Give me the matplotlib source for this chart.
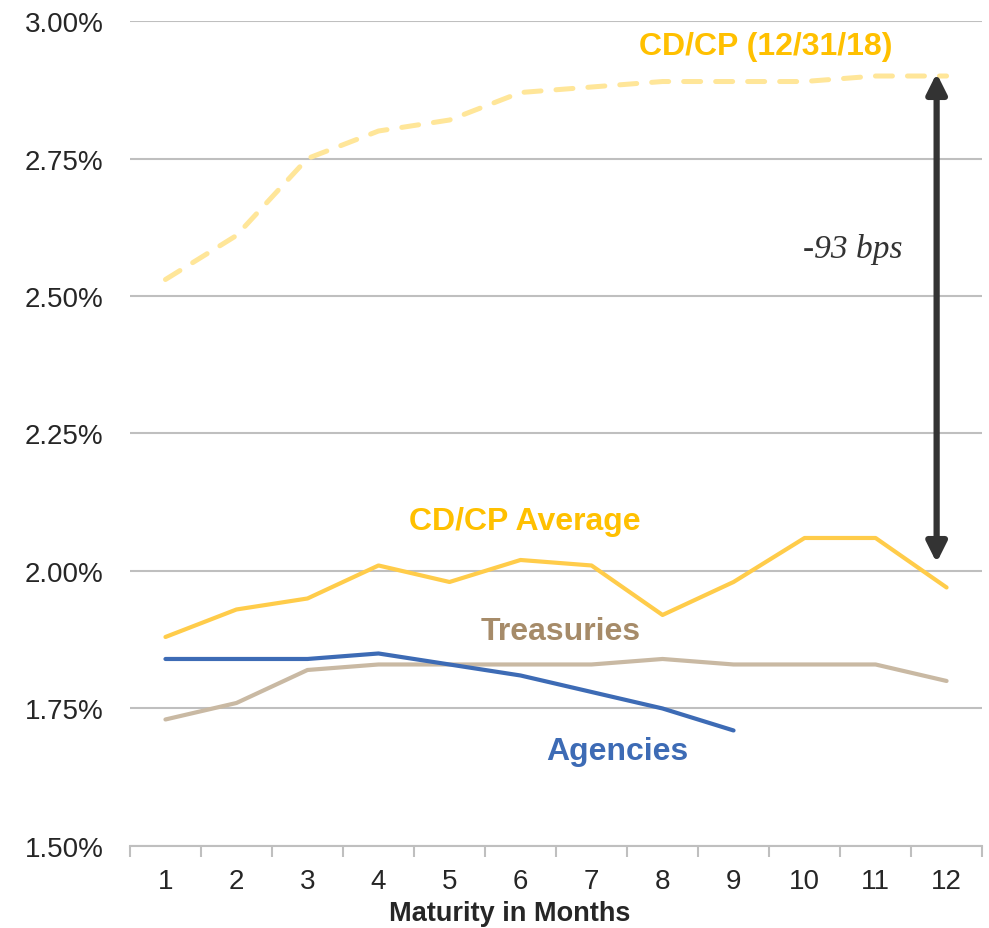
import numpy as np
import matplotlib
matplotlib.use("Agg")
import matplotlib.pyplot as plt
from matplotlib.ticker import FuncFormatter, MultipleLocator

plt.rcParams['font.family'] = ['Liberation Sans', 'DejaVu Sans']

months = list(range(1, 13))
cdcp_1231 = [2.53, 2.61, 2.75, 2.80, 2.82, 2.87, 2.88, 2.89, 2.89, 2.89, 2.90, 2.90]
cdcp_avg = [1.88, 1.93, 1.95, 2.01, 1.98, 2.02, 2.01, 1.92, 1.98, 2.06, 2.06, 1.97]
treasuries = [1.73, 1.76, 1.82, 1.83, 1.83, 1.83, 1.83, 1.84, 1.83, 1.83, 1.83, 1.80]
agencies = [1.84, 1.84, 1.84, 1.85, 1.83, 1.81, 1.78, 1.75, 1.71]

fig = plt.figure(figsize=(9.89, 9.29), dpi=100)
ax = fig.add_axes([0.1314, 0.0883, 0.8616, 0.888])

ax.plot(months, cdcp_1231, color='#FFE699', lw=3.6, ls=(0, (3.4, 3.0)),
        dash_capstyle='round', solid_capstyle='round')
ax.plot(months, treasuries, color='#C9B9A3', lw=3, solid_capstyle='round')
ax.plot(months[:len(agencies)], agencies, color='#3D6BB5', lw=3, solid_capstyle='round')
ax.plot(months, cdcp_avg, color='#FFCC4A', lw=3, solid_capstyle='round')

# spread arrow
ax.annotate('', xy=(11.86, 2.905), xytext=(11.86, 2.015),
            arrowprops=dict(arrowstyle='<|-|>', color='#333333', lw=4.5,
                            mutation_scale=30, shrinkA=0, shrinkB=0))
ax.text(10.68, 2.587, '-93 bps', fontsize=24, style='italic', color='#333333',
        family='Liberation Serif', ha='center', va='center')

# series labels
ax.text(9.45, 2.955, 'CD/CP (12/31/18)', fontsize=23, fontweight='bold', color='#FFC000',
        ha='center', va='center')
ax.text(6.06, 2.091, 'CD/CP Average', fontsize=23, fontweight='bold', color='#FFC000',
        ha='center', va='center')
ax.text(6.57, 1.891, 'Treasuries', fontsize=23, fontweight='bold', color='#A68B69',
        ha='center', va='center')
ax.text(7.36, 1.673, 'Agencies', fontsize=23, fontweight='bold', color='#3D6BB5',
        ha='center', va='center')

ax.set_xlim(0.5, 12.5)
ax.set_ylim(1.5, 3.0)
ax.yaxis.set_major_locator(MultipleLocator(0.25))
ax.yaxis.set_major_formatter(FuncFormatter(lambda v, p: f'{v:.2f}%'))
ax.set_xticks(months)
ax.set_xticks(np.arange(0.5, 13, 1), minor=True)
ax.tick_params(axis='x', which='major', length=0, labelsize=20, colors='#262626', pad=16)
ax.tick_params(axis='x', which='minor', length=8, width=1.5, color='#BFBFBF')
ax.tick_params(axis='y', length=0, labelsize=20, colors='#262626', pad=19)

ax.grid(axis='y', color='#BFBFBF', lw=1.5)
ax.set_axisbelow(True)
for s in ['top', 'right', 'left']:
    ax.spines[s].set_visible(False)
ax.spines['bottom'].set_color('#BFBFBF')
ax.spines['bottom'].set_linewidth(1.5)

# axis title sits a bit left of centre in the original
ax.text(0.446, -0.081, 'Maturity in Months', transform=ax.transAxes, fontsize=19.5,
        fontweight='bold', color='#262626', ha='center', va='center')

fig.savefig('out.png', dpi=100)
